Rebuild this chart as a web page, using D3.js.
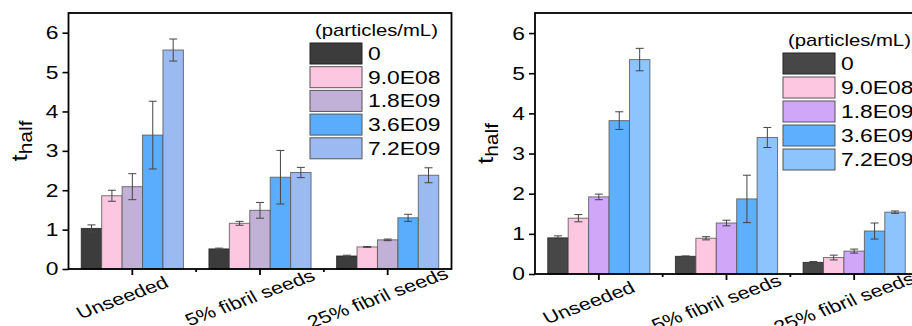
<!DOCTYPE html>
<html>
<head>
<meta charset="utf-8">
<script src="https://cdn.jsdelivr.net/npm/d3@7"></script>
<style>
  body { margin: 0; background: #fff; }
  svg { display: block; font-family: "Liberation Sans", Arial, sans-serif; }
</style>
</head>
<body>
<div id="chart"></div>
<script>
// data
var categories = ["Unseeded", "5% fibril seeds", "25% fibril seeds"];
var seriesLabels = ["0", "9.0E08", "1.8E09", "3.6E09", "7.2E09"];
var legendTitle = "(particles/mL)";
var yTicks = [0, 1, 2, 3, 4, 5, 6];

// one row per series, one column per category
var leftValues = [
    [1.03, 0.51, 0.33],
    [1.86, 1.16, 0.56],
    [2.09, 1.49, 0.74],
    [3.40, 2.33, 1.30],
    [5.56, 2.45, 2.38]
];
var leftErrors = [
    [0.09, 0.02, 0.02],
    [0.14, 0.05, 0.01],
    [0.33, 0.20, 0.02],
    [0.86, 0.68, 0.09],
    [0.28, 0.13, 0.19]
];
var rightValues = [
    [0.90, 0.44, 0.29],
    [1.39, 0.89, 0.41],
    [1.92, 1.27, 0.57],
    [3.82, 1.87, 1.07],
    [5.34, 3.40, 1.54]
];
var rightErrors = [
    [0.05, 0.01, 0.02],
    [0.09, 0.04, 0.06],
    [0.07, 0.07, 0.05],
    [0.22, 0.59, 0.20],
    [0.28, 0.25, 0.03]
];

var leftColors = ["#3c3c3c", "#fec7e1", "#c2b1d6", "#5aadfd", "#9bbaf2"];
var rightColors = ["#474747", "#fec7e1", "#d0a6f9", "#5eaffe", "#8ec4fe"];

var svgWidth = 912;
var svgHeight = 326;
var sx = 1.27; // the picture is stretched sideways, text too

var svg = d3.select("#chart")
    .append("svg")
    .attr("width", svgWidth)
    .attr("height", svgHeight);

function drawPanel(opt) {
    var values = opt.values, errors = opt.errors, colors = opt.colors;

    // Step 1: scales
    var x0 = d3.scaleBand()
        .domain(categories)
        .range([opt.left, opt.right])
        .paddingInner(0.2)
        .paddingOuter(0.1);
    var x1 = d3.scaleBand()
        .domain(d3.range(seriesLabels.length))
        .range([0, x0.bandwidth()]);
    var y = d3.scaleLinear()
        .domain([0, 6.5])
        .range([opt.bottom, opt.top]);

    var g = svg.append("g");

    // Step 2: bars
    seriesLabels.forEach(function(s, si) {
        g.selectAll(null)
            .data(categories)
            .enter()
            .append("rect")
            .attr("x", d => x0(d) + x1(si))
            .attr("y", (d, ci) => y(values[si][ci]))
            .attr("width", x1.bandwidth())
            .attr("height", (d, ci) => y(0) - y(values[si][ci]))
            .attr("fill", colors[si])
            .attr("stroke", si == 0 ? "#222" : "#555")
            .attr("stroke-opacity", 0.8)
            .attr("stroke-width", 1);
    });

    // Step 3: error bars
    seriesLabels.forEach(function(s, si) {
        categories.forEach(function(c, ci) {
            var cx = x0(c) + x1(si) + x1.bandwidth() / 2;
            var v = values[si][ci], e = errors[si][ci];
            var eg = g.append("g")
                .attr("stroke", "#444")
                .attr("stroke-width", 1);
            eg.append("line")
                .attr("x1", cx).attr("x2", cx)
                .attr("y1", y(v - e)).attr("y2", y(v + e));
            [v - e, v + e].forEach(function(t) {
                eg.append("line")
                    .attr("x1", cx - 4).attr("x2", cx + 4)
                    .attr("y1", y(t)).attr("y2", y(t));
            });
        });
    });

    // Step 4: frame and axes
    g.append("rect")
        .attr("x", opt.left)
        .attr("y", opt.top)
        .attr("width", opt.right - opt.left)
        .attr("height", opt.bottom - opt.top)
        .attr("fill", "none")
        .attr("stroke", "#000")
        .attr("stroke-width", 1.8);

    var yAxis = g.append("g")
        .attr("transform", `translate(${opt.left},0)`)
        .call(d3.axisLeft(y).tickValues(yTicks).tickSize(6).tickFormat(""));
    yAxis.select(".domain").remove();
    yAxis.selectAll("line").attr("stroke", "#000").attr("stroke-width", 1.6);

    yTicks.forEach(function(t) {
        g.append("text")
            .attr("transform", `translate(${opt.left - 10},${y(t)}) scale(${sx},1)`)
            .attr("text-anchor", "end")
            .attr("dy", "0.36em")
            .attr("font-size", 18)
            .attr("fill", "#000")
            .text(t);
    });

    // x ticks: major at the groups, small ones between
    var xAxis = g.append("g")
        .attr("transform", `translate(0,${opt.bottom})`)
        .call(d3.axisBottom(x0).tickSize(6).tickFormat(""));
    xAxis.select(".domain").remove();
    xAxis.selectAll("line").attr("stroke", "#000").attr("stroke-width", 1.8);
    for (var i = 1; i < categories.length; i++) {
        var mx = x0(categories[i]) - x0.step() * x0.paddingInner() / 2;
        g.append("line")
            .attr("x1", mx).attr("x2", mx)
            .attr("y1", opt.bottom).attr("y2", opt.bottom + 3)
            .attr("stroke", "#000")
            .attr("stroke-width", 1.8);
    }

    categories.forEach(function(c) {
        var cx = x0(c) + x0.bandwidth() / 2;
        g.append("text")
            .attr("transform", `translate(${cx - 7},${opt.bottom + 34}) scale(${sx},1) rotate(-25)`)
            .attr("text-anchor", "middle")
            .attr("font-size", 17)
            .attr("fill", "#000")
            .text(c);
    });

    // y label t_half
    var yl = g.append("text")
        .attr("transform", `translate(${opt.left - 42},${(opt.top + opt.bottom) / 2}) scale(0.85,1) rotate(-90)`)
        .attr("text-anchor", "middle")
        .attr("fill", "#000");
    yl.append("tspan").attr("font-size", 26).text("t");
    yl.append("tspan").attr("font-size", 21).attr("dy", 6).text("half");

    // Step 5: legend
    g.append("text")
        .attr("transform", `translate(${opt.left + opt.legendDx + 5},${opt.top + opt.legendDy - 7}) scale(${sx},1)`)
        .attr("font-size", 16)
        .attr("fill", "#000")
        .text(legendTitle);

    seriesLabels.forEach(function(s, si) {
        var ly = opt.top + opt.legendDy + si * opt.legendStep;
        g.append("rect")
            .attr("x", opt.left + opt.legendDx)
            .attr("y", ly)
            .attr("width", 52)
            .attr("height", 21)
            .attr("fill", colors[si])
            .attr("stroke", si == 0 ? "#222" : "#555")
            .attr("stroke-width", 1);
        g.append("text")
            .attr("transform", `translate(${opt.left + opt.legendDx + 58},${ly + 17}) scale(${sx},1)`)
            .attr("font-size", 18)
            .attr("fill", "#000")
            .text(s);
    });
}

drawPanel({
    left: 68.5, right: 451.5, top: 13, bottom: 269,
    values: leftValues, errors: leftErrors, colors: leftColors,
    legendDx: 241.5, legendDy: 30, legendStep: 23.7
});

drawPanel({
    left: 535, right: 918, top: 13, bottom: 274,
    values: rightValues, errors: rightErrors, colors: rightColors,
    legendDx: 248, legendDy: 40, legendStep: 24
});
</script>
</body>
</html>
